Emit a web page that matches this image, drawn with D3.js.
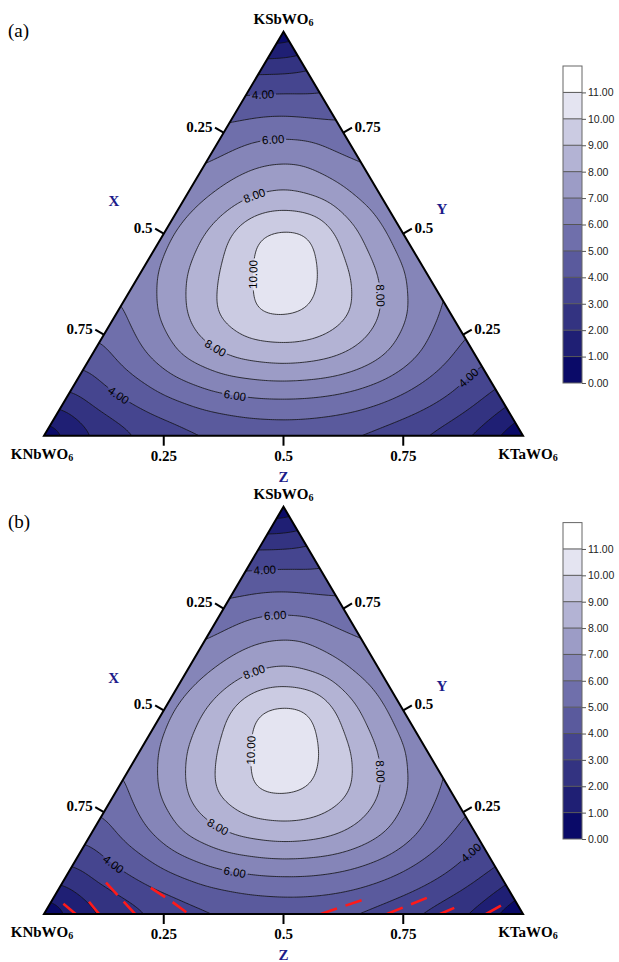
<!DOCTYPE html>
<html>
<head>
<meta charset="utf-8">
<script src="https://cdn.jsdelivr.net/npm/d3@7"></script>
<style>
  body { margin: 0; background: #fff; }
  svg { display: block; }
</style>
</head>
<body>
<svg id="chart" width="619" height="962"></svg>
<script>
// ---- data ----------------------------------------------------------------
// values on a ternary lattice, step 0.1. row j = KSbWO6 fraction (Y = j/10),
// column i = KTaWO6 fraction (Z = i/10), KNbWO6 fraction X = 1 - Y - Z
const fieldA = [
  [0, 1.9, 2.95, 3.65, 4.1, 4.25, 4.1, 3.65, 2.95, 1.9, 0],
  [2.8, 4.0, 5.0, 5.8, 6.15, 6.15, 5.8, 5.0, 4.0, 2.7],
  [4.5, 5.8, 7.25, 8.25, 8.6, 8.3, 7.3, 5.8, 4.4],
  [5.7, 7.2, 8.95, 10.15, 10.1, 9.0, 7.2, 5.6],
  [6.4, 8.1, 9.5, 10.9, 9.75, 8.0, 6.2],
  [6.6, 8.3, 10.25, 10.3, 8.2, 6.3],
  [6.4, 7.6, 8.2, 7.55, 6.2],
  [5.7, 6.6, 6.6, 5.6],
  [4.7, 4.9, 4.6],
  [3.0, 3.0],
  [0]
];
const fieldB = [
  [0, 1.7, 2.7, 3.5, 4.0, 4.2, 4.1, 3.6, 2.8, 1.8, 0],
  [2.6, 3.8, 4.85, 5.7, 6.1, 6.15, 5.8, 5.0, 3.95, 2.7],
  [4.4, 5.7, 7.2, 8.25, 8.65, 8.35, 7.3, 5.8, 4.4],
  [5.6, 7.2, 9.0, 10.2, 10.15, 9.0, 7.2, 5.6],
  [6.35, 8.1, 9.6, 10.9, 9.8, 8.0, 6.2],
  [6.6, 8.3, 10.3, 10.3, 8.2, 6.3],
  [6.4, 7.6, 8.2, 7.55, 6.2],
  [5.7, 6.6, 6.6, 5.6],
  [4.7, 4.9, 4.6],
  [3.0, 3.0],
  [0]
];

const levels = d3.range(1, 12);          // contour lines 1 .. 11
const barValues = d3.range(0, 12);       // colour bar labels 0.00 .. 11.00
const tickValues = [0.25, 0.5, 0.75];
const tickLabels = ['0.25', '0.5', '0.75'];
const vertexNames = ['KSbWO', 'KNbWO', 'KTaWO'];   // top, left, right (+ subscript 6)
const axisNames = ['X', 'Y', 'Z'];

// contour labels: level and approximate place (z, y fractions)
const labelsA = [
  { level: 4, z: 0.035, y: 0.848 }, { level: 6, z: 0.112, y: 0.732 },
  { level: 8, z: 0.134, y: 0.608 }, { level: 10, z: 0.245, y: 0.403 },
  { level: 8, z: 0.536, y: 0.351 }, { level: 8, z: 0.247, y: 0.212 },
  { level: 6, z: 0.349, y: 0.100 }, { level: 4, z: 0.113, y: 0.113 },
  { level: 4, z: 0.811, y: 0.145 }
];
const labelsB = [
  { level: 4, z: 0.039, y: 0.840 }, { level: 6, z: 0.117, y: 0.722 },
  { level: 8, z: 0.136, y: 0.604 }, { level: 10, z: 0.243, y: 0.408 },
  { level: 8, z: 0.535, y: 0.354 }, { level: 8, z: 0.256, y: 0.214 },
  { level: 6, z: 0.347, y: 0.103 }, { level: 4, z: 0.092, y: 0.135 },
  { level: 4, z: 0.813, y: 0.152 }
];

// red dashed lines of panel (b), as (z, y) points
const dashLinesB = [
  [[0.028, 0.025], [0.066, 0]],
  [[0.079, 0.030], [0.115, 0]],
  [[0.091, 0.077], [0.190, 0]],
  [[0.191, 0.064], [0.246, 0.034], [0.302, 0]],
  [[0.578, 0], [0.652, 0.037]],
  [[0.716, 0], [0.783, 0.042]],
  [[0.827, 0], [0.849, 0.015]],
  [[0.923, 0], [0.945, 0.022]]
];

// ---- styles ----------------------------------------------------------------
const bandColors = ['#0a0a68', '#1f1f74', '#333381', '#45458f', '#5a5a9d', '#6f6fab',
  '#8585b8', '#9c9cc6', '#b3b3d4', '#cbcbe2', '#e4e4f1', '#ffffff'];
const serif = '"Liberation Serif", "Times New Roman", serif';
const sans = '"Liberation Sans", Arial, sans-serif';
const axisBlue = '#1c1c8a';

const panels = [
  { tag: '(a)', field: fieldA, labels: labelsA, dashes: [],
    top: [283.5, 31.7], left: [44, 435.7], right: [523, 435.7],
    bar: [563, 582, 66, 383], tagPos: [8, 37] },
  { tag: '(b)', field: fieldB, labels: labelsB, dashes: dashLinesB,
    top: [283.5, 506.7], left: [44, 914], right: [523, 914],
    bar: [563, 582, 522.6, 839], tagPos: [8, 528] }
];

// ---- field helpers -------------------------------------------------------
const N = 240, G0 = -0.04, STEP = 1.08 / (N - 1);

function lattice(field, i, j) {
  const row = field[j];
  if (!row || i < 0 || i >= row.length) return 0;
  return row[i];
}

function fieldValue(field, z, y) {
  const n = field.length - 1;
  z = Math.max(0, z); y = Math.max(0, y);
  if (z + y > 1) {
    const e = (z + y - 1) / 2; z -= e; y -= e;
    if (z < 0) { y += z; z = 0; }
    if (y < 0) { z += y; y = 0; }
  }
  const u = z * n, v = y * n;
  const i0 = Math.min(Math.floor(u), n), j0 = Math.min(Math.floor(v), n);
  const fu = u - i0, fv = v - j0;
  if (fu + fv <= 1) {
    return lattice(field, i0, j0) * (1 - fu - fv) + lattice(field, i0 + 1, j0) * fu + lattice(field, i0, j0 + 1) * fv;
  }
  return lattice(field, i0 + 1, j0 + 1) * (fu + fv - 1) + lattice(field, i0 + 1, j0) * (1 - fv) + lattice(field, i0, j0 + 1) * (1 - fu);
}

function boxBlur(src, n, r, iters) {
  let a = Float64Array.from(src), b = new Float64Array(n * n);
  const w = 2 * r + 1;
  for (let it = 0; it < iters; it++) {
    for (let y = 0; y < n; y++) {
      for (let x = 0; x < n; x++) {
        let s = 0;
        for (let k = -r; k <= r; k++) s += a[y * n + Math.min(n - 1, Math.max(0, x + k))];
        b[y * n + x] = s / w;
      }
    }
    for (let y = 0; y < n; y++) {
      for (let x = 0; x < n; x++) {
        let s = 0;
        for (let k = -r; k <= r; k++) s += b[Math.min(n - 1, Math.max(0, y + k)) * n + x];
        a[y * n + x] = s / w;
      }
    }
  }
  return a;
}

function sampleGrid(field) {
  const vals = new Float64Array(N * N);
  for (let gy = 0; gy < N; gy++)
    for (let gx = 0; gx < N; gx++)
      vals[gy * N + gx] = fieldValue(field, G0 + gx * STEP, G0 + gy * STEP);
  return boxBlur(vals, N, 6, 3);
}

function gridValue(vals, z, y) {
  const gx = Math.max(0, Math.min(N - 1.001, (z - G0) / STEP));
  const gy = Math.max(0, Math.min(N - 1.001, (y - G0) / STEP));
  const x0 = Math.floor(gx), y0 = Math.floor(gy), fx = gx - x0, fy = gy - y0;
  return vals[y0 * N + x0] * (1 - fx) * (1 - fy) + vals[y0 * N + x0 + 1] * fx * (1 - fy)
    + vals[(y0 + 1) * N + x0] * (1 - fx) * fy + vals[(y0 + 1) * N + x0 + 1] * fx * fy;
}

function snapLabel(vals, lab) {
  let z = lab.z, y = lab.y, gz = 0, gy = 0;
  const h = 0.004;
  for (let k = 0; k < 10; k++) {
    const f = gridValue(vals, z, y) - lab.level;
    gz = (gridValue(vals, z + h, y) - gridValue(vals, z - h, y)) / (2 * h);
    gy = (gridValue(vals, z, y + h) - gridValue(vals, z, y - h)) / (2 * h);
    const g2 = gz * gz + gy * gy;
    if (g2 < 1e-9) break;
    z -= f * gz / g2; y -= f * gy / g2;
  }
  return { z, y, gz, gy };
}

// ---- drawing ---------------------------------------------------------------
const svg = d3.select('#chart');
const defs = svg.append('defs');

panels.forEach((p, pi) => {
  const zx = d3.scaleLinear().domain([0, 1]).range([0, p.right[0] - p.left[0]]);
  const yx = d3.scaleLinear().domain([0, 1]).range([0, p.top[0] - p.left[0]]);
  const yy = d3.scaleLinear().domain([0, 1]).range([p.left[1], p.top[1]]);
  const proj = (z, y) => [p.left[0] + zx(z) + yx(y), yy(y)];

  const vals = sampleGrid(p.field);
  const contours = d3.contours().size([N, N]).thresholds(levels)(vals);
  const path = d3.geoPath(d3.geoTransform({
    point(gx, gy) {
      const q = proj(G0 + (gx - 0.5) * STEP, G0 + (gy - 0.5) * STEP);
      this.stream.point(q[0], q[1]);
    }
  }));

  const tri = [proj(0, 1), proj(0, 0), proj(1, 0)];
  defs.append('clipPath').attr('id', 'clip' + pi)
    .append('polygon').attr('points', tri.map(d => d.join(',')).join(' '));

  const g = svg.append('g');
  const body = g.append('g').attr('clip-path', `url(#clip${pi})`);

  body.append('polygon').attr('points', tri.map(d => d.join(',')).join(' '))
    .attr('fill', bandColors[0]);
  body.append('g').selectAll('path').data(contours).join('path')
    .attr('d', path)
    .attr('fill', d => bandColors[d.value]);

  // contour labels (snapped onto their line)
  const labs = p.labels.map(l => {
    const s = snapLabel(vals, l);
    const tz = -s.gy, ty = s.gz;
    const dx = zx(tz) + yx(ty), dy = yy(ty) - yy(0);
    let ang = Math.atan2(dy, dx) * 180 / Math.PI;
    if (ang > 90) ang -= 180;
    if (ang <= -90) ang += 180;
    const pos = proj(s.z, s.y);
    return { level: l.level, x: pos[0], y: pos[1], ang };
  });

  const mask = defs.append('mask').attr('id', 'gap' + pi)
    .attr('maskUnits', 'userSpaceOnUse')
    .attr('x', 0).attr('y', 0).attr('width', 619).attr('height', 962);
  mask.append('rect').attr('width', 619).attr('height', 962).attr('fill', '#fff');
  mask.selectAll('rect.gap').data(labs).join('rect')
    .attr('class', 'gap')
    .attr('x', d => d.level >= 10 ? -16 : -13).attr('y', -5)
    .attr('width', d => d.level >= 10 ? 32 : 26).attr('height', 10)
    .attr('transform', d => `translate(${d.x},${d.y}) rotate(${d.ang})`)
    .attr('fill', '#000');

  body.append('g').attr('mask', `url(#gap${pi})`)
    .selectAll('path').data(contours).join('path')
    .attr('d', path)
    .attr('fill', 'none')
    .attr('stroke', '#111')
    .attr('stroke-width', 0.8);

  body.append('g').selectAll('text').data(labs).join('text')
    .attr('transform', d => `translate(${d.x},${d.y}) rotate(${d.ang})`)
    .attr('text-anchor', 'middle')
    .attr('dominant-baseline', 'central')
    .attr('font-family', sans)
    .attr('font-size', 11.5)
    .attr('fill', '#000')
    .text(d => d3.format('.2f')(d.level));

  // red dashed lines
  const line = d3.line().x(d => proj(d[0], d[1])[0]).y(d => proj(d[0], d[1])[1]);
  body.append('g').selectAll('path').data(p.dashes).join('path')
    .attr('d', line)
    .attr('fill', 'none')
    .attr('stroke', '#ff1a1a')
    .attr('stroke-width', 2.6)
    .attr('stroke-dasharray', '17,9');

  // triangle frame
  g.append('polygon').attr('points', tri.map(d => d.join(',')).join(' '))
    .attr('fill', 'none').attr('stroke', '#000').attr('stroke-width', 2)
    .attr('stroke-linejoin', 'miter');

  // axes: X on left edge, Y on right edge, Z on bottom edge
  const edges = [
    { at: v => proj(0, 1 - v), a: tri[1], b: tri[0], c: tri[2], anchor: 'end', title: [0, 58], titleDy: -3 },
    { at: v => proj(1 - v, v), a: tri[2], b: tri[0], c: tri[1], anchor: 'start', title: [1, 45], titleDy: -2 },
    { at: v => proj(v, 0), a: tri[1], b: tri[2], c: tri[0], anchor: 'middle', title: [2, 41], titleDy: 0 }
  ];
  edges.forEach(e => {
    let nx = -(e.b[1] - e.a[1]), ny = e.b[0] - e.a[0];
    const len = Math.hypot(nx, ny); nx /= len; ny /= len;
    if (nx * (e.c[0] - e.a[0]) + ny * (e.c[1] - e.a[1]) > 0) { nx = -nx; ny = -ny; }
    const ticks = tickValues.map((v, k) => {
      const q = e.at(v);
      return { q, end: [q[0] + nx * 10, q[1] + ny * 10], label: tickLabels[k] };
    });
    g.append('g').selectAll('line').data(ticks).join('line')
      .attr('x1', d => d.q[0]).attr('y1', d => d.q[1])
      .attr('x2', d => d.end[0]).attr('y2', d => d.end[1])
      .attr('stroke', '#000').attr('stroke-width', 2);
    g.append('g').selectAll('text').data(ticks).join('text')
      .attr('x', d => e.anchor === 'middle' ? d.end[0] : d.end[0] + nx * 3)
      .attr('y', d => e.anchor === 'middle' ? d.end[1] + 10 : d.end[1] - 1)
      .attr('text-anchor', e.anchor)
      .attr('dominant-baseline', 'central')
      .attr('font-family', serif).attr('font-weight', 'bold').attr('font-size', 15)
      .text(d => d.label);
    const mid = e.at(0.5);
    g.append('text')
      .attr('x', mid[0] + nx * e.title[1])
      .attr('y', mid[1] + ny * e.title[1] + e.titleDy)
      .attr('text-anchor', 'middle').attr('dominant-baseline', 'central')
      .attr('font-family', serif).attr('font-weight', 'bold').attr('font-size', 15)
      .attr('fill', axisBlue)
      .text(axisNames[e.title[0]]);
  });

  // vertex names
  const vpos = [[tri[0][0], tri[0][1] - 13], [tri[1][0] - 2, tri[1][1] + 18], [tri[2][0] + 5, tri[2][1] + 18]];
  vertexNames.forEach((name, k) => {
    const t = g.append('text')
      .attr('x', vpos[k][0]).attr('y', vpos[k][1])
      .attr('text-anchor', 'middle').attr('dominant-baseline', 'central')
      .attr('font-family', serif).attr('font-weight', 'bold').attr('font-size', 15);
    t.append('tspan').text(name);
    t.append('tspan').attr('font-size', 10).attr('dy', 3).text('6');
  });

  // panel tag
  g.append('text').attr('x', p.tagPos[0]).attr('y', p.tagPos[1])
    .attr('font-family', serif).attr('font-size', 19).text(p.tag);

  // colour bar
  const [bx0, bx1, by0, by1] = p.bar;
  const cy = d3.scaleLinear().domain([0, 12]).range([by1, by0]);
  const bar = g.append('g');
  bar.selectAll('rect').data(bandColors).join('rect')
    .attr('x', bx0).attr('width', bx1 - bx0)
    .attr('y', (d, i) => cy(i + 1)).attr('height', (d, i) => cy(i) - cy(i + 1))
    .attr('fill', d => d);
  bar.selectAll('line').data(levels).join('line')
    .attr('x1', bx0).attr('x2', bx1).attr('y1', d => cy(d)).attr('y2', d => cy(d))
    .attr('stroke', '#555').attr('stroke-width', 1);
  bar.append('rect').attr('x', bx0).attr('y', by0)
    .attr('width', bx1 - bx0).attr('height', by1 - by0)
    .attr('fill', 'none').attr('stroke', '#666').attr('stroke-width', 1);
  const axis = g.append('g').attr('transform', `translate(${bx1},0)`)
    .call(d3.axisRight(cy).tickValues(barValues).tickFormat(d3.format('.2f')).tickSize(4).tickPadding(2));
  axis.select('.domain').remove();
  axis.selectAll('line').attr('stroke', '#555');
  axis.selectAll('text').attr('font-family', sans).attr('font-size', 10.5).attr('fill', '#222');
});
</script>
</body>
</html>
